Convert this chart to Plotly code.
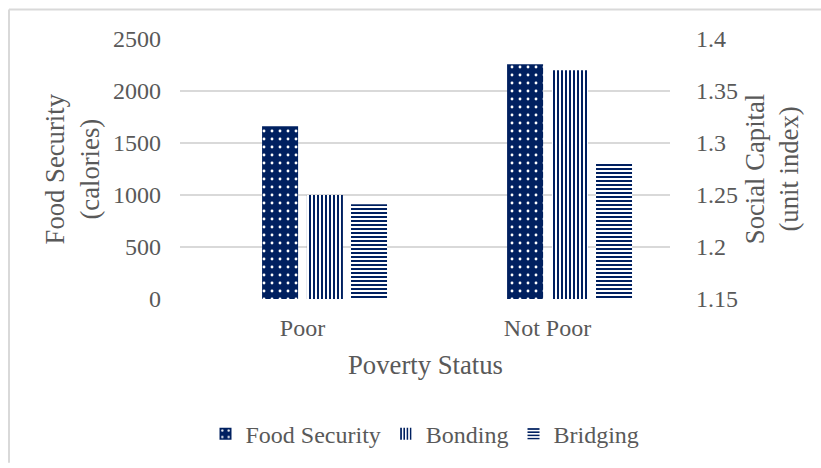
import plotly.graph_objects as go

categories = ["Poor", "Not Poor"]
food_security = [1660, 2258]          # calories (left axis)
bonding = [1.250, 1.370]              # unit index (right axis)
bridging = [1.241, 1.280]             # unit index (right axis)

left_ticks = [0, 500, 1000, 1500, 2000, 2500]
right_ticks = [1.15, 1.2, 1.25, 1.3, 1.35, 1.4]
right_ticktext = ["1.15", "1.2", "1.25", "1.3", "1.35", "1.4"]

NAVY = "#002060"
GREY = "#595959"
FONT = "Liberation Serif, Times New Roman, serif"
F = dict(family=FONT, size=24, color=GREY)
FT = dict(family=FONT, size=26.7, color=GREY)

fig = go.Figure()
fig.add_trace(go.Bar(
    x=categories, y=food_security, name="Food Security", yaxis="y",
    offset=-0.165, width=0.147,
    marker=dict(color=NAVY, line=dict(width=0),
                pattern=dict(shape=".", fgcolor="white", bgcolor=NAVY,
                             size=8, solidity=0.1, fillmode="replace")),
))
fig.add_trace(go.Bar(
    x=categories, y=bonding, name="Bonding", yaxis="y2",
    offset=0.018, width=0.147,
    marker=dict(color="white", line=dict(width=0),
                pattern=dict(shape="|", fgcolor=NAVY, bgcolor="white",
                             size=4, solidity=0.5, fillmode="replace")),
))
fig.add_trace(go.Bar(
    x=categories, y=bridging, name="Bridging", yaxis="y2",
    offset=0.198, width=0.147,
    marker=dict(color="white", line=dict(width=0),
                pattern=dict(shape="-", fgcolor=NAVY, bgcolor="white",
                             size=4, solidity=0.5, fillmode="replace")),
))

def title(text, x, y=0.499, angle=-90):
    return dict(text=text, xref="paper", yref="paper", x=x, y=y,
                xanchor="center", yanchor="middle", textangle=angle,
                showarrow=False, font=FT)

fig.update_layout(
    width=821, height=468,
    margin=dict(l=180, r=151, t=39, b=165.5, pad=0),
    paper_bgcolor="white", plot_bgcolor="white",
    font=F,
    barmode="overlay",
    showlegend=True,
    legend=dict(orientation="h", x=0.5, xanchor="center", y=-0.52, yanchor="middle",
                font=F, itemwidth=30, traceorder="normal"),
    xaxis=dict(type="category", range=[-0.5, 1.5], showgrid=False, showline=False,
               zeroline=False, ticks="", ticklabelstandoff=12, tickfont=F),
    yaxis=dict(range=[0, 2500], tickvals=left_ticks, showgrid=True,
               gridcolor="#d9d9d9", gridwidth=1.5, zeroline=False, showline=False,
               ticks="", ticklabelstandoff=18, tickfont=F),
    yaxis2=dict(range=[1.15, 1.4], tickvals=right_ticks, ticktext=right_ticktext,
                overlaying="y", side="right", showgrid=False, zeroline=False,
                showline=False, ticks="", ticklabelstandoff=25, tickfont=F),
    annotations=[
        title("Food Security<br>(calories)", -0.220),
        title("Social Capital<br>(unit index)", 1.208),
        title("Poverty Status", 0.5, y=-0.255, angle=0),
    ],
    shapes=[
        dict(type="line", xref="paper", yref="paper", x0=-0.349, x1=1.31,
             y0=1.1139, y1=1.1139, line=dict(color="#d9d9d9", width=2)),
        dict(type="line", xref="paper", yref="paper", x0=-0.349, x1=-0.349,
             y0=1.1139, y1=-0.63, line=dict(color="#d9d9d9", width=2)),
    ],
)

fig.write_html("out.html")
